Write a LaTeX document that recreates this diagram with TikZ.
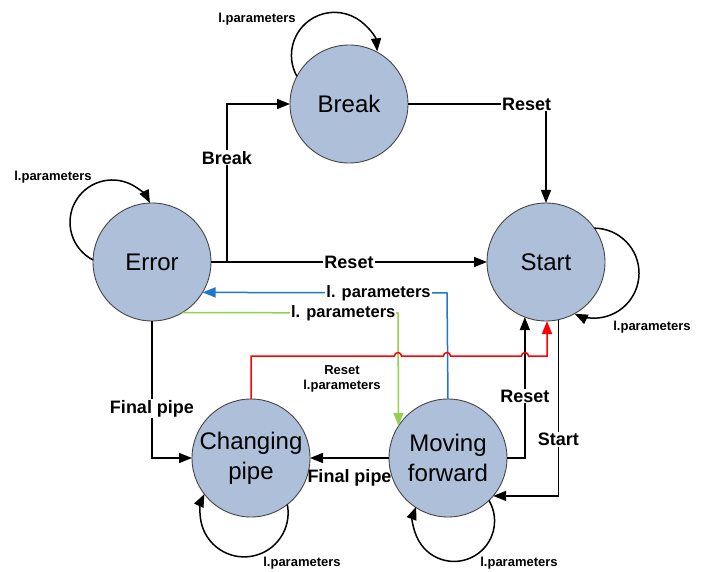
\documentclass[tikz,border=0pt]{standalone}
\usepackage{fontspec}
\setmainfont{Liberation Sans}
\usetikzlibrary{arrows.meta}
\definecolor{statefill}{RGB}{174,192,217}
\definecolor{stateline}{RGB}{70,70,70}
\definecolor{lineblue}{RGB}{30,120,200}
\definecolor{linegreen}{RGB}{146,208,80}
\definecolor{linered}{RGB}{255,0,0}

\begin{document}
\begin{tikzpicture}[x=1pt,y=1pt,
  state/.style={circle, draw=stateline, line width=0.9pt, fill=statefill,
    minimum size=118pt, inner sep=0pt, outer sep=0pt, align=center,
    font=\fontsize{24}{30}\selectfont},
  flow/.style={line width=1.5pt, -{Triangle[length=13pt,width=10pt]}},
  tag/.style={font=\bfseries\fontsize{18}{20}\selectfont, fill=white, inner sep=1pt},
  ptag/.style={font=\bfseries\fontsize{16.5}{19}\selectfont, fill=white, inner sep=1pt, text=black},
  looptag/.style={font=\bfseries\fontsize{13}{16}\selectfont, inner sep=0pt, align=center}]

\useasboundingbox (0,0) rectangle (704,-572);

% states
\node[state] (brk) at (349,-104) {Break};
\node[state] (err) at (152,-262) {Error};
\node[state] (st)  at (546,-262) {Start};
\node[state] (cp)  at (251,-458) {Changing\\pipe};
\node[state] (mf)  at (448,-458) {Moving\\forward};

% junctions and corners
\coordinate (j1) at (227,-262);
\coordinate (b1) at (447,-293);
\coordinate (g1) at (398,-313);

% black transitions
\draw[flow] (err) -- (st) node[tag, midway] {Reset};
\draw[flow] (j1) |- (brk.west) node[tag, pos=0.33] {Break};
\draw[flow] (brk) -| (st.north) node[tag, pos=0.43] {Reset};
\draw[flow] (mf.east) -| (st.249.1) node[tag, pos=0.72] {Reset};
\draw[flow] (st.-78.3) |- (mf.-40.1) node[tag, pos=0.34] {Start};
\draw[flow] (err.south) |- (cp.west) node[tag, pos=0.32] {Final pipe};
\draw[flow] (mf) -- (cp) node[midway, yshift=-20pt, font=\bfseries\fontsize{18}{20}\selectfont] {Final pipe};

% coloured transitions
\draw[flow, color=lineblue] (mf.north) -- (b1) -- (err.-31.7)
  node[ptag, pos=0.28] {l. parameters};
\draw[flow, color=linegreen] (err.-59.8) -- (g1)
  node[ptag, pos=0.746] {l. parameters} -- (mf.147.9);
\draw[flow, color=linered] (cp.north) |- (394.5,-356)
  arc[start angle=180, end angle=0, radius=3.5] -- (443.5,-356)
  arc[start angle=180, end angle=0, radius=3.5] -- (521.5,-356)
  arc[start angle=180, end angle=0, radius=3.5] -- (547,-356) -- (547,-321);
\node[looptag] (rtag) at (342,-379) {Reset\\[-1pt]l.parameters};

% self loops
\draw[flow] (brk.152.8) arc[start angle=209.2, end angle=5.3, radius=43];
\draw[flow] (err.178) arc[start angle=242.9, end angle=27.1, radius=42.3];
\draw[flow] (st.35.1) arc[start angle=89.6, end angle=-115.5, radius=45];
\draw[flow] (cp.-52.2) arc[start angle=11, end angle=-205.4, radius=44];
\draw[flow] (mf.-46.7) arc[start angle=30.4, end angle=-200.5, radius=40.5];

\node[looptag] (lbrk) at (257,-19) {l.parameters};
\node[looptag] (lerr) at (53,-177) {l.parameters};
\node[looptag] (lst)  at (652,-327) {l.parameters};
\node[looptag] (lcp)  at (302,-563) {l.parameters};
\node[looptag] (lmf)  at (519,-563) {l.parameters};

\end{tikzpicture}
\end{document}
